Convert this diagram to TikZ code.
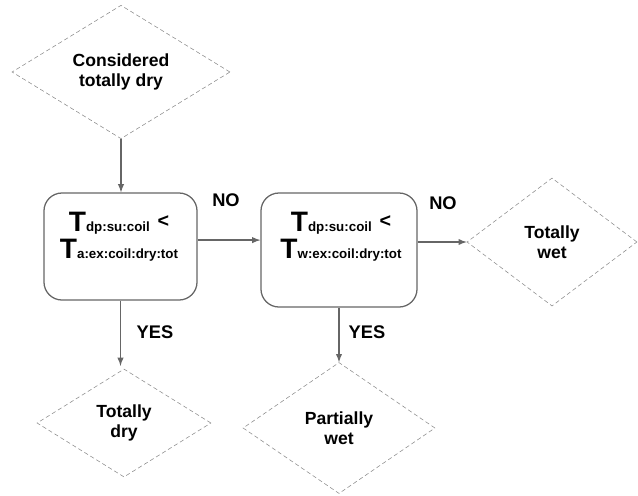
\documentclass[tikz,border=0pt]{standalone}
\usepackage{fontspec}
\setmainfont{Liberation Sans}
\usetikzlibrary{shapes.geometric}

\tikzstyle{decision}=[diamond, draw=gray!90, densely dashed, thin, inner sep=0pt, align=center, font=\bfseries\fontsize{12.5}{14.5}\selectfont]
\tikzstyle{check}=[rectangle, draw=gray!80!black, line width=0.9pt, rounded corners=0.45cm]
\tikzstyle{checktext}=[align=center, inner sep=0pt, font=\bfseries\fontsize{20}{19}\selectfont]
\tikzstyle{arrow}=[draw=gray!80!black, line width=1pt, -latex]
\tikzstyle{answer}=[font=\bfseries\fontsize{13}{15}\selectfont]

\newcommand{\Tsub}[1]{T{\fontsize{9.5}{12}\selectfont\bfseries #1}}
\newcommand{\lessthan}{\ \raisebox{3pt}{\fontsize{14}{14}\selectfont\bfseries <}}

\begin{document}
\begin{tikzpicture}[x=0.025cm, y=-0.025cm]
      \useasboundingbox (0,0) rectangle (638,495);

      \node[decision, minimum width=5.45cm, minimum height=3.225cm] (start) at (121,72) {Considered\\totally dry};
      \node[check, minimum width=3.825cm, minimum height=2.675cm] (check1) at (120.5,246.5) {};
      \node[check, minimum width=3.9cm, minimum height=2.85cm] (check2) at (339,250) {};
      \node[checktext] (check1txt) at (119,237) {\Tsub{dp:su:coil}\lessthan\\\Tsub{a:ex:coil:dry:tot}};
      \node[checktext] (check2txt) at (341,237) {\Tsub{dp:su:coil}\lessthan\\\Tsub{w:ex:coil:dry:tot}};
      \node[decision, minimum width=4.25cm, minimum height=3.2cm] (wet) at (552,242) {Totally\\wet};
      \node[decision, minimum width=4.35cm, minimum height=2.7cm] (dry) at (124,423) {Totally\\dry};
      \node[decision, minimum width=4.8cm, minimum height=3.275cm] (partial) at (339,428) {Partially\\wet};

      \node[answer] (no1) at (226,200) {NO};
      \node[answer] (no2) at (443,203) {NO};
      \node[answer] (yes1) at (155,332) {YES};
      \node[answer] (yes2) at (367,332) {YES};

      \draw[arrow] (start.south) -- (start.south |- check1.north);
      \draw[arrow] ([yshift=0.16cm]check1.east) -- ([yshift=0.16cm]check1.east -| check2.west);
      \draw[arrow] (check2.east |- wet.west) -- (wet.west);
      \draw[arrow, shorten >=2pt] (check1.south) -- (check1.south |- dry.north);
      \draw[arrow] (partial.north |- check2.south) -- (partial.north);
    \end{tikzpicture}
\end{document}
